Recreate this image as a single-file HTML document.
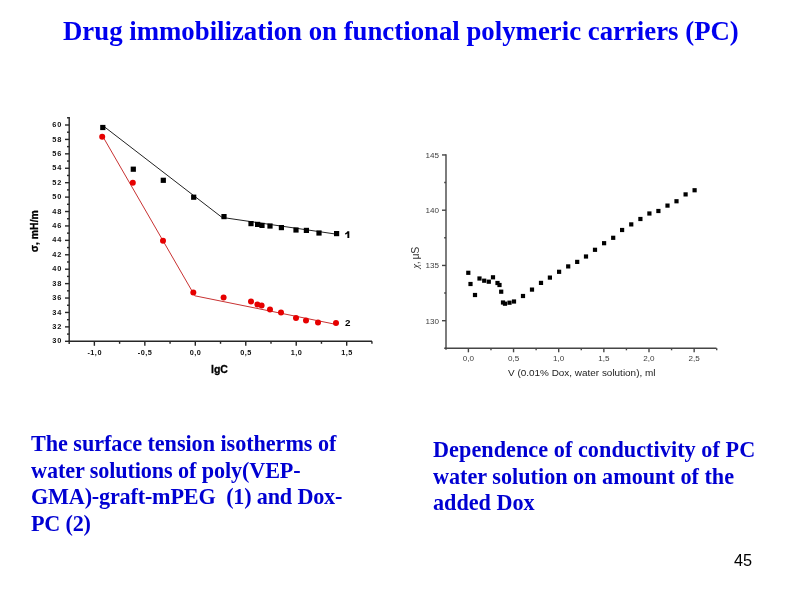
<!DOCTYPE html>
<html><head><meta charset="utf-8">
<style>
html,body{margin:0;padding:0;background:#fff;width:800px;height:600px;overflow:hidden;position:relative}
#charts,.t,#pg{will-change:transform}
.t{position:absolute;font-family:"Liberation Serif",serif;font-weight:bold;white-space:nowrap}
#title{left:63px;top:16px;font-size:26.8px;line-height:30px;color:#0000ee}
.cap{font-size:22.2px;line-height:26.7px;color:#0000d2}
#c1{left:31px;top:430.8px}
#c2{left:433px;top:436.7px}
#pg{position:absolute;left:733.6px;top:550.2px;font-family:"Liberation Sans",sans-serif;font-size:16.3px;line-height:20px;color:#000}
</style></head><body>
<svg id="charts" width="800" height="600" viewBox="0 0 800 600" style="position:absolute;left:0;top:0"><g stroke="#262626" stroke-width="1.4" fill="none"><line x1="69.2" y1="117" x2="69.2" y2="343.90000000000003"/><line x1="68.5" y1="341.3" x2="372" y2="341.3"/><line x1="65.0" y1="341.30" x2="69.2" y2="341.30"/><line x1="67.0" y1="334.09" x2="69.2" y2="334.09"/><line x1="65.0" y1="326.88" x2="69.2" y2="326.88"/><line x1="67.0" y1="319.67" x2="69.2" y2="319.67"/><line x1="65.0" y1="312.46" x2="69.2" y2="312.46"/><line x1="67.0" y1="305.25" x2="69.2" y2="305.25"/><line x1="65.0" y1="298.04" x2="69.2" y2="298.04"/><line x1="67.0" y1="290.83" x2="69.2" y2="290.83"/><line x1="65.0" y1="283.62" x2="69.2" y2="283.62"/><line x1="67.0" y1="276.41" x2="69.2" y2="276.41"/><line x1="65.0" y1="269.20" x2="69.2" y2="269.20"/><line x1="67.0" y1="261.99" x2="69.2" y2="261.99"/><line x1="65.0" y1="254.78" x2="69.2" y2="254.78"/><line x1="67.0" y1="247.57" x2="69.2" y2="247.57"/><line x1="65.0" y1="240.36" x2="69.2" y2="240.36"/><line x1="67.0" y1="233.15" x2="69.2" y2="233.15"/><line x1="65.0" y1="225.94" x2="69.2" y2="225.94"/><line x1="67.0" y1="218.73" x2="69.2" y2="218.73"/><line x1="65.0" y1="211.52" x2="69.2" y2="211.52"/><line x1="67.0" y1="204.31" x2="69.2" y2="204.31"/><line x1="65.0" y1="197.10" x2="69.2" y2="197.10"/><line x1="67.0" y1="189.89" x2="69.2" y2="189.89"/><line x1="65.0" y1="182.68" x2="69.2" y2="182.68"/><line x1="67.0" y1="175.47" x2="69.2" y2="175.47"/><line x1="65.0" y1="168.26" x2="69.2" y2="168.26"/><line x1="67.0" y1="161.05" x2="69.2" y2="161.05"/><line x1="65.0" y1="153.84" x2="69.2" y2="153.84"/><line x1="67.0" y1="146.63" x2="69.2" y2="146.63"/><line x1="65.0" y1="139.42" x2="69.2" y2="139.42"/><line x1="67.0" y1="132.21" x2="69.2" y2="132.21"/><line x1="65.0" y1="125.00" x2="69.2" y2="125.00"/><line x1="67.0" y1="117.79" x2="69.2" y2="117.79"/><line x1="94.37" y1="341.3" x2="94.37" y2="345.8"/><line x1="119.60" y1="341.3" x2="119.60" y2="343.8"/><line x1="144.84" y1="341.3" x2="144.84" y2="345.8"/><line x1="170.07" y1="341.3" x2="170.07" y2="343.8"/><line x1="195.30" y1="341.3" x2="195.30" y2="345.8"/><line x1="220.53" y1="341.3" x2="220.53" y2="343.8"/><line x1="245.77" y1="341.3" x2="245.77" y2="345.8"/><line x1="271.00" y1="341.3" x2="271.00" y2="343.8"/><line x1="296.23" y1="341.3" x2="296.23" y2="345.8"/><line x1="321.46" y1="341.3" x2="321.46" y2="343.8"/><line x1="346.70" y1="341.3" x2="346.70" y2="345.8"/><line x1="371.93" y1="341.3" x2="371.93" y2="343.8"/></g><g font-family="Liberation Sans, sans-serif" font-weight="bold" font-size="7.4" fill="#111" text-anchor="end" letter-spacing="0.75"><text x="62.0" y="343.40">30</text><text x="62.0" y="328.98">32</text><text x="62.0" y="314.56">34</text><text x="62.0" y="300.14">36</text><text x="62.0" y="285.72">38</text><text x="62.0" y="271.30">40</text><text x="62.0" y="256.88">42</text><text x="62.0" y="242.46">44</text><text x="62.0" y="228.04">46</text><text x="62.0" y="213.62">48</text><text x="62.0" y="199.20">50</text><text x="62.0" y="184.78">52</text><text x="62.0" y="170.36">54</text><text x="62.0" y="155.94">56</text><text x="62.0" y="141.52">58</text><text x="62.0" y="127.10">60</text></g><g font-family="Liberation Sans, sans-serif" font-weight="bold" font-size="7.3" fill="#111" text-anchor="middle" letter-spacing="0.5"><text x="94.67" y="355.3">-1,0</text><text x="145.14" y="355.3">-0,5</text><text x="195.60" y="355.3">0,0</text><text x="246.07" y="355.3">0,5</text><text x="296.53" y="355.3">1,0</text><text x="347.00" y="355.3">1,5</text></g><text x="211" y="373" font-family="Liberation Sans, sans-serif" font-weight="bold" font-size="10.5" fill="#000" stroke="#000" stroke-width="0.3">lgC</text><text transform="translate(37.6,252.3) rotate(-90)" font-family="Liberation Sans, sans-serif" font-weight="bold" font-size="10.5" fill="#000" stroke="#000" stroke-width="0.3">σ, mH/m</text><path d="M347.4,231.3 L349.3,231.3 L349.3,238.1 L347.4,238.1 L347.4,233.6 Q346.3,234.4 345.1,234.6 L345.1,233.2 Q346.8,232.6 347.4,231.3 Z" fill="#000"/><text x="344.9" y="326.3" font-family="Liberation Sans, sans-serif" font-weight="bold" font-size="9.8" fill="#000">2</text><polyline points="102.8,125.6 222,217.4 336.6,234.2" fill="none" stroke="#222" stroke-width="1"/><rect x="100.20" y="124.90" width="5.2" height="5.2" fill="#000"/><rect x="130.70" y="166.60" width="5.2" height="5.2" fill="#000"/><rect x="160.70" y="177.70" width="5.2" height="5.2" fill="#000"/><rect x="191.10" y="194.60" width="5.2" height="5.2" fill="#000"/><rect x="221.40" y="214.00" width="5.2" height="5.2" fill="#000"/><rect x="248.40" y="221.00" width="5.2" height="5.2" fill="#000"/><rect x="255.00" y="221.80" width="5.2" height="5.2" fill="#000"/><rect x="259.40" y="222.80" width="5.2" height="5.2" fill="#000"/><rect x="267.40" y="223.40" width="5.2" height="5.2" fill="#000"/><rect x="278.80" y="225.00" width="5.2" height="5.2" fill="#000"/><rect x="293.40" y="227.40" width="5.2" height="5.2" fill="#000"/><rect x="303.80" y="227.80" width="5.2" height="5.2" fill="#000"/><rect x="316.40" y="230.40" width="5.2" height="5.2" fill="#000"/><rect x="334.00" y="231.00" width="5.2" height="5.2" fill="#000"/><polyline points="102.2,135.4 194.8,295.8 336,324.4" fill="none" stroke="#c83232" stroke-width="1"/><circle cx="102.20" cy="136.70" r="3" fill="#e60000"/><circle cx="132.80" cy="182.80" r="3" fill="#e60000"/><circle cx="163.00" cy="240.80" r="3" fill="#e60000"/><circle cx="193.30" cy="292.50" r="3" fill="#e60000"/><circle cx="223.60" cy="297.60" r="3" fill="#e60000"/><circle cx="251.00" cy="301.40" r="3" fill="#e60000"/><circle cx="257.40" cy="304.40" r="3" fill="#e60000"/><circle cx="261.60" cy="305.40" r="3" fill="#e60000"/><circle cx="270.00" cy="309.60" r="3" fill="#e60000"/><circle cx="281.00" cy="312.60" r="3" fill="#e60000"/><circle cx="296.00" cy="318.00" r="3" fill="#e60000"/><circle cx="306.00" cy="320.60" r="3" fill="#e60000"/><circle cx="318.00" cy="322.40" r="3" fill="#e60000"/><circle cx="336.00" cy="323.00" r="3" fill="#e60000"/><g stroke="#454545" stroke-width="1.4" fill="none"><line x1="446.0" y1="154.2" x2="446.0" y2="349.8"/><line x1="445.3" y1="348.3" x2="716.5" y2="348.3"/><line x1="444.2" y1="348.32" x2="446.0" y2="348.32"/><line x1="442.0" y1="320.70" x2="446.0" y2="320.70"/><line x1="444.2" y1="293.07" x2="446.0" y2="293.07"/><line x1="442.0" y1="265.45" x2="446.0" y2="265.45"/><line x1="444.2" y1="237.82" x2="446.0" y2="237.82"/><line x1="442.0" y1="210.20" x2="446.0" y2="210.20"/><line x1="444.2" y1="182.57" x2="446.0" y2="182.57"/><line x1="442.0" y1="154.95" x2="446.0" y2="154.95"/><line x1="468.40" y1="348.3" x2="468.40" y2="352.3"/><line x1="490.97" y1="348.3" x2="490.97" y2="350.3"/><line x1="513.55" y1="348.3" x2="513.55" y2="352.3"/><line x1="536.12" y1="348.3" x2="536.12" y2="350.3"/><line x1="558.70" y1="348.3" x2="558.70" y2="352.3"/><line x1="581.27" y1="348.3" x2="581.27" y2="350.3"/><line x1="603.85" y1="348.3" x2="603.85" y2="352.3"/><line x1="626.42" y1="348.3" x2="626.42" y2="350.3"/><line x1="649.00" y1="348.3" x2="649.00" y2="352.3"/><line x1="671.57" y1="348.3" x2="671.57" y2="350.3"/><line x1="694.15" y1="348.3" x2="694.15" y2="352.3"/><line x1="716.72" y1="348.3" x2="716.72" y2="350.3"/></g><g font-family="Liberation Sans, sans-serif" font-size="8.1" fill="#3c3c3c" text-anchor="end"><text x="439" y="323.50">130</text><text x="439" y="268.25">135</text><text x="439" y="213.00">140</text><text x="439" y="157.75">145</text></g><g font-family="Liberation Sans, sans-serif" font-size="8.1" fill="#3c3c3c" text-anchor="middle"><text x="468.40" y="360.8">0,0</text><text x="513.55" y="360.8">0,5</text><text x="558.70" y="360.8">1,0</text><text x="603.85" y="360.8">1,5</text><text x="649.00" y="360.8">2,0</text><text x="694.15" y="360.8">2,5</text></g><text x="508" y="375.6" font-family="Liberation Sans, sans-serif" font-size="9.95" fill="#222">V (0.01% Dox, water solution), ml</text><text transform="translate(418.8,268.5) rotate(-90)" font-family="Liberation Sans, sans-serif" font-size="10.5" letter-spacing="-0.45" fill="#333"><tspan font-family="Liberation Serif, serif" font-style="italic">χ</tspan>, μS</text><rect x="466.20" y="270.70" width="4.2" height="4.2" fill="#000"/><rect x="468.40" y="281.90" width="4.2" height="4.2" fill="#000"/><rect x="472.90" y="292.90" width="4.2" height="4.2" fill="#000"/><rect x="477.40" y="276.40" width="4.2" height="4.2" fill="#000"/><rect x="482.10" y="278.60" width="4.2" height="4.2" fill="#000"/><rect x="486.70" y="279.60" width="4.2" height="4.2" fill="#000"/><rect x="490.90" y="275.20" width="4.2" height="4.2" fill="#000"/><rect x="495.40" y="280.90" width="4.2" height="4.2" fill="#000"/><rect x="497.40" y="282.90" width="4.2" height="4.2" fill="#000"/><rect x="499.10" y="289.60" width="4.2" height="4.2" fill="#000"/><rect x="500.90" y="300.40" width="4.2" height="4.2" fill="#000"/><rect x="502.90" y="301.60" width="4.2" height="4.2" fill="#000"/><rect x="507.40" y="300.60" width="4.2" height="4.2" fill="#000"/><rect x="511.90" y="299.40" width="4.2" height="4.2" fill="#000"/><rect x="520.90" y="293.90" width="4.2" height="4.2" fill="#000"/><rect x="529.90" y="287.50" width="4.2" height="4.2" fill="#000"/><rect x="538.90" y="280.80" width="4.2" height="4.2" fill="#000"/><rect x="547.80" y="275.50" width="4.2" height="4.2" fill="#000"/><rect x="557.00" y="269.70" width="4.2" height="4.2" fill="#000"/><rect x="566.10" y="264.30" width="4.2" height="4.2" fill="#000"/><rect x="575.10" y="259.80" width="4.2" height="4.2" fill="#000"/><rect x="583.90" y="254.40" width="4.2" height="4.2" fill="#000"/><rect x="592.90" y="247.70" width="4.2" height="4.2" fill="#000"/><rect x="602.00" y="241.10" width="4.2" height="4.2" fill="#000"/><rect x="611.10" y="235.70" width="4.2" height="4.2" fill="#000"/><rect x="620.00" y="227.90" width="4.2" height="4.2" fill="#000"/><rect x="629.15" y="222.30" width="4.2" height="4.2" fill="#000"/><rect x="638.30" y="216.90" width="4.2" height="4.2" fill="#000"/><rect x="647.30" y="211.40" width="4.2" height="4.2" fill="#000"/><rect x="656.30" y="208.90" width="4.2" height="4.2" fill="#000"/><rect x="665.40" y="203.50" width="4.2" height="4.2" fill="#000"/><rect x="674.40" y="199.15" width="4.2" height="4.2" fill="#000"/><rect x="683.50" y="192.30" width="4.2" height="4.2" fill="#000"/><rect x="692.50" y="188.15" width="4.2" height="4.2" fill="#000"/></svg>
<div id="title" class="t">Drug immobilization on functional polymeric carriers (PC)</div>
<div id="c1" class="t cap"><span style="letter-spacing:-0.05px">The surface tension isotherms of</span><br><span style="letter-spacing:-0.11px">water solutions of poly(VEP-</span><br><span style="letter-spacing:-0.19px">GMA)-graft-mPEG&nbsp; (1) and Dox-</span><br><span style="letter-spacing:-0.2px">PC (2)</span></div>
<div id="c2" class="t cap"><span style="letter-spacing:0.055px">Dependence of conductivity of PC</span><br>water solution on amount of the<br>added Dox</div>
<div id="pg">45</div>
</body></html>
